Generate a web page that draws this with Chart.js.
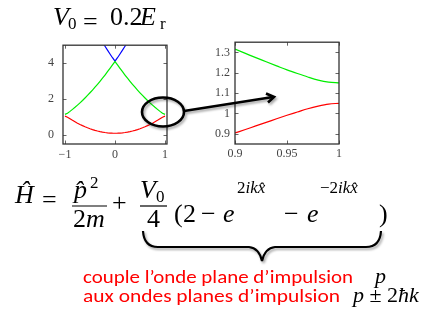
<!DOCTYPE html>
<html>
<head>
<meta charset="utf-8">
<script src="https://cdn.jsdelivr.net/npm/chart.js@4.4.1/dist/chart.umd.min.js"></script>
<style>
    body { margin: 0; background: #fff; }
    #wrap { position: relative; width: 436px; height: 317px; overflow: hidden; }
    #left { position: absolute; left: 13px; top: 29px; }
    #right { position: absolute; left: 195px; top: 30px; }
    #ann { position: absolute; left: 0; top: 0; }
    .m { font-family: 'Liberation Serif', serif; fill: #000; }
    .red { font-family: Carlito, 'Open Sans', sans-serif; fill: #f00; }
</style>
</head>
<body>
<div id="wrap">
<canvas id="left" width="164" height="135"></canvas>
<canvas id="right" width="154" height="134"></canvas>
<svg id="ann" width="436" height="317" viewBox="0 0 436 317" font-family="Liberation Serif">
    <defs>
        <filter id="shadow" x="-20%" y="-20%" width="140%" height="160%">
            <feDropShadow dx="1.5" dy="2" stdDeviation="1.2" flood-color="#000" flood-opacity="0.35"/>
        </filter>
    </defs>

    <!-- title -->
    <text class="m" font-style="italic" x="53" y="25" font-size="26">V</text>
    <text class="m" x="68" y="29" font-size="17">0</text>
    <text class="m" x="83" y="30" font-size="26">=</text>
    <text class="m" x="110" y="25" font-size="26">0.2</text>
    <text class="m" font-style="italic" x="140" y="25" font-size="26">E</text>
    <text class="m" x="160" y="29" font-size="17">r</text>

    <!-- zoom ellipse and arrow -->
    <g filter="url(#shadow)" stroke="#000" stroke-width="2.6" fill="none">
        <ellipse cx="163" cy="112" rx="21" ry="14.5"/>
        <line x1="184" y1="111" x2="273" y2="97"/>
        <polyline points="266,93.5 274,97 268,102.5" stroke-linejoin="miter"/>
    </g>

    <!-- hamiltonian -->
    <text class="m" font-style="italic" x="15" y="203" font-size="26">Ĥ</text>
    <text class="m" x="42" y="208" font-size="26">=</text>
    <text class="m" font-style="italic" x="74" y="198" font-size="26">p̂</text>
    <text class="m" x="90" y="188" font-size="17">2</text>
    <line x1="72" y1="206" x2="107" y2="206" stroke="#000" stroke-width="1.2"/>
    <text class="m" x="73" y="227" font-size="26">2<tspan font-style="italic">m</tspan></text>
    <text class="m" x="112" y="211" font-size="26">+</text>
    <text class="m" font-style="italic" x="140" y="198" font-size="26">V</text>
    <text class="m" x="156" y="202" font-size="17">0</text>
    <line x1="140" y1="206" x2="167" y2="206" stroke="#000" stroke-width="1.2"/>
    <text class="m" x="147" y="227" font-size="26">4</text>
    <text class="m" x="174" y="222" font-size="26">(</text>
    <text class="m" x="183" y="222" font-size="26">2</text>
    <text class="m" x="201" y="222" font-size="26">−</text>
    <text class="m" font-style="italic" x="223" y="222" font-size="26">e</text>
    <text class="m" x="237" y="193" font-size="17">2<tspan font-style="italic">ikx̂</tspan></text>
    <text class="m" x="284" y="222" font-size="26">−</text>
    <text class="m" font-style="italic" x="307" y="222" font-size="26">e</text>
    <text class="m" x="320" y="193" font-size="17">−2<tspan font-style="italic">ikx̂</tspan></text>
    <text class="m" x="379" y="222" font-size="26">)</text>

    <!-- brace -->
    <path filter="url(#shadow)" d="M143,231 Q144,247 158,247 L249,247 Q259,248 262,261 Q265,248 275,247 L366,247 Q380,247 381,231"
          stroke="#000" stroke-width="2.2" fill="none"/>

    <!-- caption -->
    <text class="red" font-family="Carlito" x="83" y="283" font-size="19" textLength="270" lengthAdjust="spacingAndGlyphs">couple l’onde plane d’impulsion</text>
    <text class="m" font-style="italic" x="375" y="283" font-size="22">p</text>
    <text class="red" font-family="Carlito" x="83" y="302" font-size="19" textLength="257" lengthAdjust="spacingAndGlyphs">aux ondes planes d’impulsion</text>
    <text class="m" x="353" y="302" font-size="22"><tspan font-style="italic">p</tspan> ± 2<tspan font-style="italic">ħk</tspan></text>
</svg>
</div>

<script>
// quasi-momentum q (units of k), band energies (units of E_r), V0 = 0.2 E_r
const qFull = [-1, -0.95, -0.9, -0.85, -0.8, -0.75, -0.7, -0.65, -0.6, -0.55, -0.5, -0.45, -0.4, -0.35, -0.3, -0.25, -0.2, -0.15, -0.1, -0.05,
    0, 0.05, 0.1, 0.15, 0.2, 0.25, 0.3, 0.35, 0.4, 0.45, 0.5, 0.55, 0.6, 0.65, 0.7, 0.75, 0.8, 0.85, 0.9, 0.95, 1];
const band1 = [1.05, 0.991, 0.904, 0.818, 0.737, 0.660, 0.588, 0.521, 0.458, 0.401, 0.349, 0.301, 0.259, 0.222, 0.19, 0.162, 0.14, 0.122, 0.11, 0.102,
    0.099, 0.102, 0.11, 0.122, 0.14, 0.162, 0.19, 0.222, 0.259, 0.301, 0.349, 0.401, 0.458, 0.521, 0.588, 0.660, 0.737, 0.818, 0.904, 0.991, 1.05];
const band2 = [1.15, 1.214, 1.316, 1.427, 1.543, 1.665, 1.792, 1.924, 2.062, 2.204, 2.351, 2.504, 2.661, 2.823, 2.991, 3.163, 3.34, 3.523, 3.71, 3.903,
    4.09, 3.903, 3.71, 3.523, 3.34, 3.163, 2.991, 2.823, 2.661, 2.504, 2.351, 2.204, 2.062, 1.924, 1.792, 1.665, 1.543, 1.427, 1.316, 1.214, 1.15];
const qBand3 = [-0.3, -0.25, -0.2, -0.15, -0.1, -0.05, 0, 0.05, 0.1, 0.15, 0.2, 0.25, 0.3];
const band3 = [5.39, 5.163, 4.94, 4.723, 4.51, 4.303, 4.11, 4.303, 4.51, 4.723, 4.94, 5.163, 5.39];

// zoom near the zone edge
const qZoom = [0.9, 0.91, 0.92, 0.93, 0.94, 0.95, 0.96, 0.97, 0.98, 0.99, 1];
const band1Zoom = [0.904, 0.921, 0.939, 0.956, 0.974, 0.991, 1.007, 1.023, 1.036, 1.046, 1.05];
const band2Zoom = [1.316, 1.295, 1.274, 1.254, 1.234, 1.214, 1.196, 1.179, 1.164, 1.154, 1.15];

const leftXTicks = [-1, 0, 1];
const leftYTicks = [0, 2, 4];
const rightXTicks = [0.9, 0.95, 1];
const rightYTicks = [0.9, 1, 1.1, 1.2, 1.3];

const RED = '#ff0000', GREEN = '#00ee00', BLUE = '#0000ff';

function pts(xs, ys) {
    return xs.map((x, i) => ({ x: x, y: ys[i] }));
}

// pgfplots-like box with inward ticks on all four sides
const frameTicks = {
    id: 'frameTicks',
    afterDatasetsDraw(chart) {
        const { ctx, chartArea: a, scales: { x, y } } = chart;
        const len = 3.5;
        ctx.save();
        ctx.beginPath();
        ctx.strokeStyle = '#666';
        ctx.lineWidth = 1;
        x.ticks.forEach(t => {
            const px = Math.round(x.getPixelForValue(t.value)) + 0.5;
            ctx.moveTo(px, a.bottom); ctx.lineTo(px, a.bottom - len);
            ctx.moveTo(px, a.top); ctx.lineTo(px, a.top + len);
        });
        y.ticks.forEach(t => {
            const py = Math.round(y.getPixelForValue(t.value)) + 0.5;
            ctx.moveTo(a.left, py); ctx.lineTo(a.left + len, py);
            ctx.moveTo(a.right, py); ctx.lineTo(a.right - len, py);
        });
        ctx.stroke();
        ctx.strokeStyle = '#333';
        ctx.lineWidth = 1.3;
        ctx.strokeRect(a.left, a.top, a.width, a.height);
        ctx.restore();
    }
};

function axis(min, max, tickValues, pad, fit) {
    return {
        type: 'linear',
        min: min,
        max: max,
        afterBuildTicks: s => { s.ticks = tickValues.map(v => ({ value: v })); },
        afterFit: fit,
        grid: { display: false, drawTicks: false },
        border: { display: false },
        ticks: {
            padding: pad,
            color: '#444',
            autoSkip: false,
            maxRotation: 0,
            font: { family: "'Liberation Serif'", size: 12 },
            callback: v => String(v).replace('-', '\u2212')
        }
    };
}

function makeChart(id, datasets, xs, ys) {
    return new Chart(document.getElementById(id), {
        type: 'line',
        data: { datasets: datasets },
        options: {
            responsive: false,
            animation: false,
            events: [],
            layout: { padding: { top: 10, right: 10, left: 0, bottom: 0 } },
            elements: { point: { radius: 0 }, line: { borderWidth: 1.2, fill: false } },
            plugins: { legend: { display: false }, tooltip: { enabled: false } },
            scales: { x: xs, y: ys }
        },
        plugins: [frameTicks]
    });
}

makeChart('left', [
    { data: pts(qFull, band1), borderColor: RED, tension: 0 },
    { data: pts(qFull, band2), borderColor: GREEN, tension: 0 },
    { data: pts(qBand3, band3), borderColor: BLUE, tension: 0 }
],
    axis(-1.04, 1.04, leftXTicks, 4, s => { s.height = 20; }),
    axis(-0.5, 5, leftYTicks, 9, s => { s.width = 50; })
);

makeChart('right', [
    { data: pts(qZoom, band1Zoom), borderColor: RED, cubicInterpolationMode: 'monotone' },
    { data: pts(qZoom, band2Zoom), borderColor: GREEN, cubicInterpolationMode: 'monotone' }
],
    axis(0.9, 1, rightXTicks, 3, s => { s.height = 20; }),
    axis(0.85, 1.35, rightYTicks, 5, s => { s.width = 40; })
);
</script>
</body>
</html>
